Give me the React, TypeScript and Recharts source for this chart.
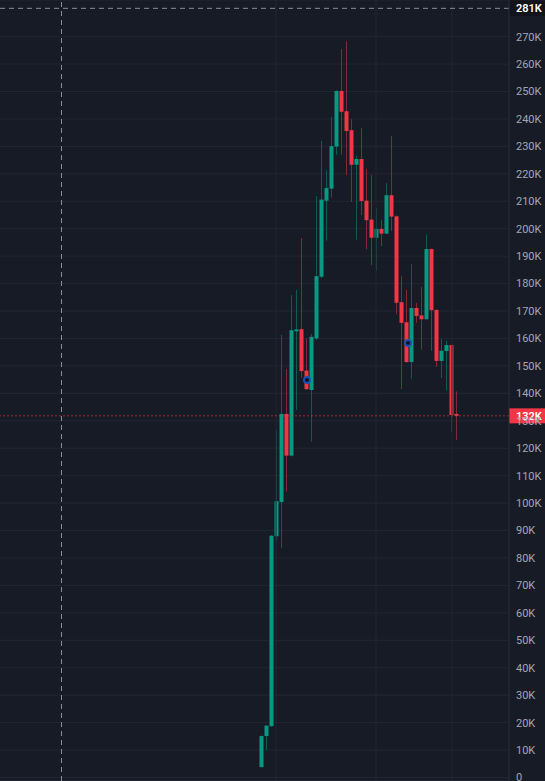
import React from 'react';
import {
  ComposedChart,
  Bar,
  XAxis,
  YAxis,
  CartesianGrid,
  ReferenceLine,
  ReferenceDot,
} from 'recharts';

// weekly candles, prices in K
const opens = [
  3.8, 15.1, 18.7, 87.9, 100.4, 132.5, 117.3, 162.6, 163.4, 148.3,
  141.2, 160.0, 182.5, 210.2, 214.6, 229.9, 250.2, 242.8, 235.9, 223.3,
  225.4, 210.2, 203.3, 196.7, 199.9, 198.2, 212.2, 204.5, 173.2, 165.9,
  151.4, 171.1, 168.4, 167.0, 192.6, 170.4, 151.8, 155.4, 157.6, 132.5,
];
const highs = [
  15.3, 19.0, 88.3, 126.6, 161.3, 148.9, 175.8, 177.7, 196.6, 160.0,
  161.6, 211.9, 232.0, 221.3, 240.7, 250.4, 265.5, 268.3, 239.9, 226.6,
  236.6, 221.8, 219.6, 207.5, 203.3, 216.6, 233.8, 204.8, 182.7, 177.8,
  187.1, 172.9, 178.8, 197.8, 192.8, 170.6, 159.8, 159.2, 157.8, 140.7,
];
const lows = [
  3.6, 10.0, 18.5, 86.2, 83.6, 104.2, 117.0, 133.9, 145.7, 141.3,
  122.4, 159.4, 182.0, 195.6, 211.3, 226.9, 226.9, 219.5, 209.7, 196.0,
  204.9, 192.5, 186.7, 184.7, 193.7, 198.0, 199.2, 168.8, 141.5, 151.2,
  145.3, 165.7, 155.9, 166.8, 155.5, 149.7, 145.6, 141.0, 125.9, 123.0,
];
const closes = [
  15.1, 18.9, 88.1, 100.7, 132.5, 117.3, 163.0, 163.3, 148.1, 141.5,
  160.6, 182.7, 210.6, 214.8, 230.1, 250.2, 242.6, 235.6, 223.3, 225.4,
  210.1, 203.1, 196.7, 199.9, 198.2, 212.2, 204.4, 173.0, 165.7, 151.4,
  171.1, 168.2, 167.0, 192.6, 170.3, 151.8, 155.5, 157.6, 132.1, 131.8,
];

const priceTicks = [
  0, 10000, 20000, 30000, 40000, 50000, 60000, 70000, 80000, 90000,
  100000, 110000, 120000, 130000, 140000, 150000, 160000, 170000, 180000,
  190000, 200000, 210000, 220000, 230000, 240000, 250000, 260000, 270000,
];
const gridWeeks = [2.8, 22.8, 38];
const markers = [
  { week: 9, price: 144900 },
  { week: 29.2, price: 158300 },
];
const lastPrice = 131800;
const lastLabel = '132K';
const crossPrice = 280300;
const crossLabel = '281K';
const crossWeek = -40.1;

const BG = '#171b26';
const GRID = '#222632';
const UP = '#089981';
const DOWN = '#f23645';
const TEXT = '#a3a6b4';
const FONT = 'Roboto, "Liberation Sans", sans-serif';

const data = opens.map((open, i) => ({
  week: i,
  open: open * 1000,
  high: highs[i] * 1000,
  low: lows[i] * 1000,
  close: closes[i] * 1000,
}));

const fmt = (v: number) => (v === 0 ? '0' : `${Math.round(v / 1000)}K`);

const Candle = (props: any) => {
  const { x, y, width, height, payload } = props;
  const { open, close, high, low } = payload;
  const top = Math.min(y, y + height);
  const bottom = Math.max(y, y + height);
  const span = high - low || 1;
  const toY = (v: number) => bottom - ((v - low) / span) * (bottom - top);
  const color = close >= open ? UP : DOWN;
  const bodyTop = toY(Math.max(open, close));
  const bodyBottom = toY(Math.min(open, close));
  const cx = x + width / 2;
  return (
    <g>
      <rect x={Math.round(cx - 0.5)} y={top} width={1} height={bottom - top} fill={color} fillOpacity={0.5} />
      <rect x={x} y={bodyTop} width={width} height={Math.max(1, bodyBottom - bodyTop)} fill={color} />
    </g>
  );
};

const PriceTag = ({ viewBox, text, fill, color }: any) => {
  const right = viewBox.x + viewBox.width;
  return (
    <g>
      <rect x={right} y={viewBox.y - 7.5} width={36} height={15} fill={fill} />
      <text x={right + 7} y={viewBox.y + 4} fill={color} fontSize={11} fontFamily={FONT} fontWeight={600}>
        {text}
      </text>
    </g>
  );
};

const App = () => {
  return (
    <div style={{ position: 'fixed', left: 0, top: 0, width: 545, height: 781, background: BG }}>
      <ComposedChart width={545} height={781} data={data} margin={{ top: 0, right: 0, bottom: 0, left: 0 }}>
        <CartesianGrid stroke={GRID} vertical={false} />
        <XAxis dataKey="week" type="number" domain={[-52.4, 49.4]} allowDataOverflow hide />
        <YAxis
          orientation="right"
          width={36}
          type="number"
          domain={[-1280, 283340]}
          allowDataOverflow
          ticks={priceTicks}
          interval={0}
          tickFormatter={fmt}
          tickLine={false}
          tickSize={0}
          tickMargin={7}
          axisLine={{ stroke: '#2a2e39' }}
          tick={{ fill: TEXT, fontSize: 11, fontFamily: FONT, textAnchor: 'start' }}
        />
        {gridWeeks.map((w) => (
          <ReferenceLine key={w} x={w} stroke={GRID} />
        ))}
        <ReferenceLine
          y={lastPrice}
          stroke={DOWN}
          strokeOpacity={0.6}
          strokeDasharray="2 2"
          label={<PriceTag text={lastLabel} fill={DOWN} color="#ffffff" />}
        />
        <Bar
          dataKey={(d: any) => [d.low, d.high]}
          barSize={4}
          shape={<Candle />}
          isAnimationActive={false}
        />
        {markers.map((m) => (
          <ReferenceDot key={m.week} x={m.week} y={m.price} r={3} fill="#0c1020" stroke="#1f4fb0" strokeWidth={2} />
        ))}
        <ReferenceLine x={crossWeek} stroke="#8a8d96" strokeDasharray="5 4" />
        <ReferenceLine
          y={crossPrice}
          stroke="#8a8d96"
          strokeDasharray="5 4"
          label={<PriceTag text={crossLabel} fill="#131419" color="#ffffff" />}
        />
      </ComposedChart>
    </div>
  );
};

export default App;
